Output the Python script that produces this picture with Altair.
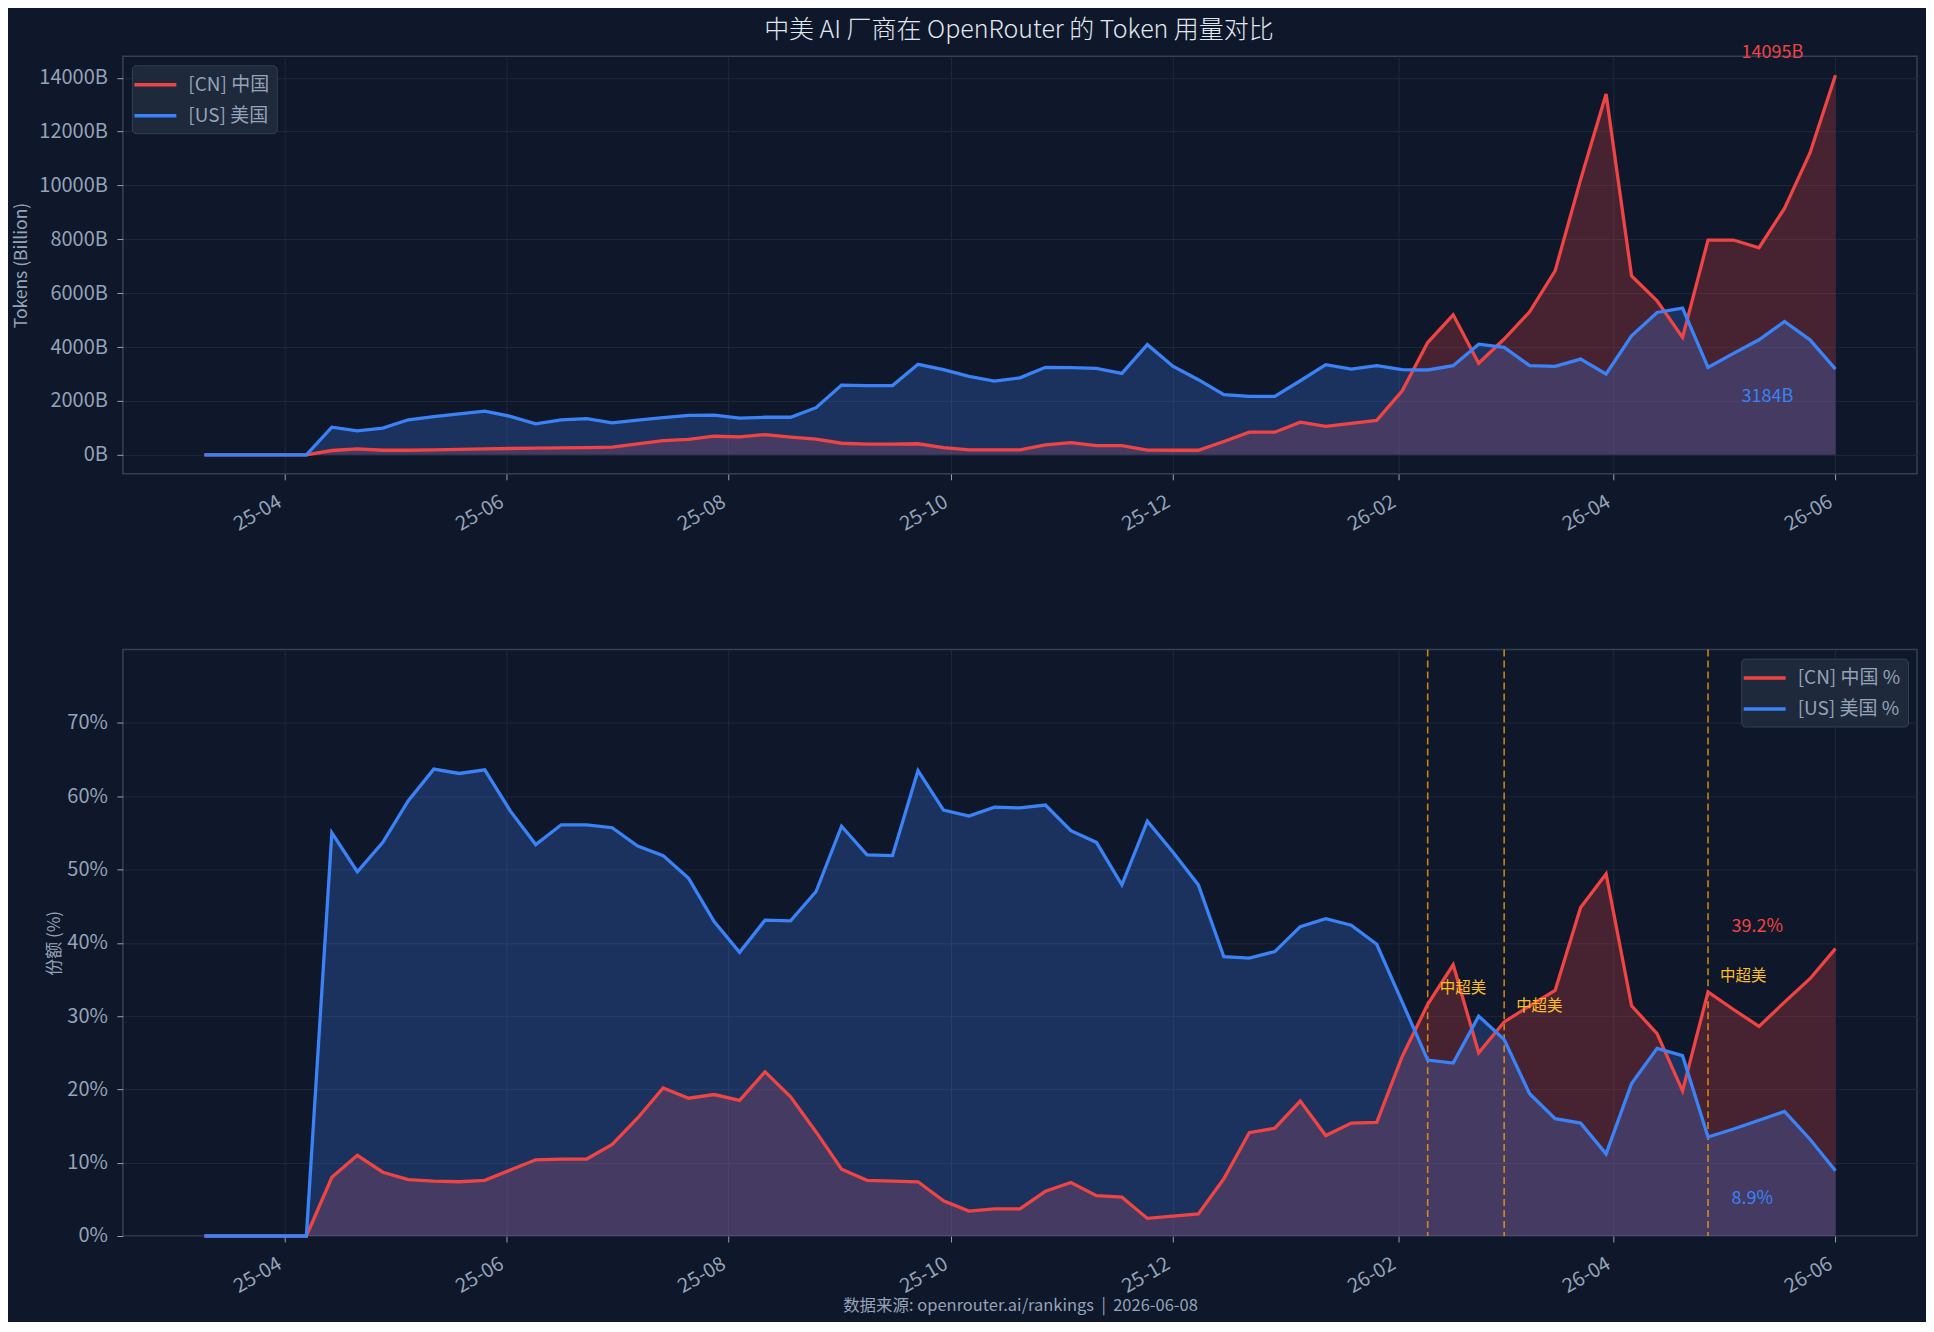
import altair as alt
import pandas as pd

# ---------------- data ----------------
dates = pd.date_range("2025-03-10", periods=65, freq="7D").strftime("%Y-%m-%d").tolist()

cn_tokens = [0, 0, 0, 0, 0, 160, 220, 170, 170, 185,
             200, 220, 235, 245, 260, 270, 285, 410, 530, 570,
             690, 665, 750, 655, 580, 430, 395, 395, 410, 270,
             185, 185, 185, 370, 455, 345, 345, 175, 170, 170,
             494, 840, 840, 1210, 1060, 1170, 1280, 2380, 4170, 5200,
             3400, 4300, 5310, 6830, 10220, 13395, 6640, 5715, 4360, 7975,
             7975, 7690, 9150, 11210, 14095]

us_tokens = [0, 0, 0, 0, 0, 1025, 890, 990, 1300, 1420,
             1520, 1620, 1430, 1150, 1300, 1345, 1185, 1285, 1380, 1465,
             1470, 1360, 1395, 1395, 1750, 2590, 2570, 2570, 3360, 3160,
             2910, 2740, 2860, 3250, 3235, 3210, 3025, 4090, 3290, 2790,
             2235, 2170, 2170, 2750, 3345, 3185, 3310, 3160, 3150, 3310,
             4110, 3990, 3310, 3285, 3555, 3000, 4420, 5285, 5445, 3245,
             3765, 4270, 4950, 4270, 3184]

cn_share = [0, 0, 0, 0, 0, 8.0, 11.0, 8.7, 7.7, 7.5,
            7.4, 7.6, 9.0, 10.4, 10.5, 10.5, 12.5, 16.1, 20.2, 18.8,
            19.3, 18.5, 22.4, 19.0, 14.2, 9.1, 7.6, 7.5, 7.4, 4.8,
            3.4, 3.7, 3.7, 6.1, 7.3, 5.5, 5.3, 2.4, 2.7, 3.0,
            7.8, 14.1, 14.7, 18.4, 13.7, 15.4, 15.5, 24.5, 31.6, 37.0,
            25.0, 29.2, 31.4, 33.5, 44.8, 49.4, 31.4, 27.6, 19.8, 33.3,
            30.9, 28.6, 31.9, 35.1, 39.2]

us_share = [0, 0, 0, 0, 0, 55.0, 49.7, 53.7, 59.4, 63.7,
            63.1, 63.6, 58.0, 53.4, 56.1, 56.1, 55.7, 53.2, 51.9, 48.8,
            42.9, 38.7, 43.1, 43.0, 47.0, 55.9, 52.0, 51.9, 63.5, 58.1,
            57.3, 58.5, 58.4, 58.8, 55.3, 53.7, 47.9, 56.6, 52.4, 47.9,
            38.1, 37.9, 38.8, 42.2, 43.3, 42.4, 39.8, 31.9, 24.0, 23.6,
            30.0, 26.8, 19.4, 16.0, 15.4, 11.2, 20.8, 25.6, 24.6, 13.5,
            14.6, 15.8, 17.0, 13.2, 8.9]

top_labels = ["[CN] 中国", "[US] 美国"]
bot_labels = ["[CN] 中国 %", "[US] 美国 %"]
y_ticks_top = [0, 2000, 4000, 6000, 8000, 10000, 12000, 14000]
y_ticks_bot = [0, 10, 20, 30, 40, 50, 60, 70]
tick_months = [(2025, 4), (2025, 6), (2025, 8), (2025, 10), (2025, 12),
               (2026, 2), (2026, 4), (2026, 6)]
cross_text = "中超美"
title_text = "中美 AI 厂商在 OpenRouter 的 Token 用量对比"
footer_text = "数据来源: openrouter.ai/rankings\u00a0\u00a0|\u00a0\u00a02026-06-08"

# ---------------- style ----------------
BG = "#0f172a"
RED = "#ef4444"
BLUE = "#3b82f6"
GOLD_LINE = "#f59e0b"
GOLD_TEXT = "#fbbf24"
GRID = "#1e293b"
SPINE = "#334155"
MUTED = "#94a3b8"
FONT = "Noto Sans CJK SC"

W = 1796
H_TOP = 418
H_BOT = 587

n = len(dates)
cn_top_df = pd.DataFrame({"date": dates, "value": cn_tokens, "series": top_labels[0]})
us_top_df = pd.DataFrame({"date": dates, "value": us_tokens, "series": top_labels[1]})
top_long = pd.concat([cn_top_df, us_top_df], ignore_index=True)

cn_bot_df = pd.DataFrame({"date": dates, "value": cn_share, "series": bot_labels[0]})
us_bot_df = pd.DataFrame({"date": dates, "value": us_share, "series": bot_labels[1]})
bot_long = pd.concat([cn_bot_df, us_bot_df], ignore_index=True)

cross_idx = [i for i in range(1, n)
             if cn_share[i] > us_share[i] and cn_share[i - 1] <= us_share[i - 1]]
cross_df = pd.DataFrame({"date": [dates[i] for i in cross_idx],
                         "value": [cn_share[i] for i in cross_idx],
                         "label": [cross_text] * len(cross_idx)})

x_domain = [alt.DateTime(year=2025, month=2, date=15, hours=14, minutes=24, utc=True),
            alt.DateTime(year=2026, month=6, date=23, hours=9, minutes=36, utc=True)]
tick_vals = [alt.DateTime(year=y, month=m, date=1, utc=True) for (y, m) in tick_months]
x_scale = alt.Scale(type="utc", domain=x_domain, nice=False)


def x_enc(title=None, **extra):
    return alt.X("date:T", scale=x_scale,
                 axis=alt.Axis(values=tick_vals,
                               labelExpr="utcFormat(datum.value, '%y-%m')",
                               labelAngle=-30, labelAlign="right", labelBaseline="top",
                               labelOffset=-10, labelPadding=11.5,
                               title=title, **extra))


def legend(orient):
    return alt.Legend(orient=orient, title=None, offset=9, padding=7,
                      fillColor="#1e293b", strokeColor=SPINE,
                      cornerRadius=4, symbolType="M-2,0L2,0",
                      symbolSize=441, symbolStrokeWidth=3.5, symbolOffset=4,
                      labelFont=FONT, labelFontSize=19, labelColor=MUTED,
                      labelOffset=20.5, rowPadding=8)


# ---------------- top chart ----------------
y_top = alt.Y("value:Q", stack=None,
              scale=alt.Scale(domain=[-704.75, 14799.75], nice=False, zero=False),
              axis=alt.Axis(values=y_ticks_top, labelExpr="datum.value + 'B'",
                            labelPadding=9.5,
                            title="Tokens (Billion)", titleX=-101, titleY=H_TOP / 2,
                            titleAngle=270, titleAlign="center", titleBaseline="middle",
                            titleFont=FONT, titleFontSize=17.5))

top_color = alt.Color("series:N",
                      scale=alt.Scale(domain=top_labels, range=[RED, BLUE]),
                      legend=legend("top-left"))

xt = x_enc()
area_cn_top = alt.Chart(cn_top_df).mark_area(color=RED, opacity=0.25).encode(x=xt, y=y_top)
area_us_top = alt.Chart(us_top_df).mark_area(color=BLUE, opacity=0.25).encode(x=xt, y=y_top)
lines_top = alt.Chart(top_long).mark_line(strokeWidth=3.3).encode(
    x=xt, y=y_top, color=top_color)

end_cn_top = alt.Chart(cn_top_df.tail(1)).mark_text(
    align="left", baseline="middle", dx=-94, dy=-22, color=RED, font=FONT, fontSize=18
).transform_calculate(lbl="format(datum.value, '.0f') + 'B'").encode(x=xt, y=y_top, text="lbl:N")
end_us_top = alt.Chart(us_top_df.tail(1)).mark_text(
    align="left", baseline="middle", dx=-94, dy=28, color=BLUE, font=FONT, fontSize=18
).transform_calculate(lbl="format(datum.value, '.0f') + 'B'").encode(x=xt, y=y_top, text="lbl:N")

top = alt.layer(area_cn_top, area_us_top, lines_top, end_cn_top, end_us_top).properties(
    width=W, height=H_TOP)

# ---------------- bottom chart ----------------
y_bot = alt.Y("value:Q", stack=None,
              scale=alt.Scale(domain=[0, 80], nice=False),
              axis=alt.Axis(values=y_ticks_bot, labelExpr="datum.value + '%'",
                            labelPadding=9.5,
                            title="份额 (%)", titleX=-68, titleY=H_BOT / 2,
                            titleAngle=270, titleAlign="center", titleBaseline="middle",
                            titleFont=FONT, titleFontSize=17))

bot_color = alt.Color("series:N",
                      scale=alt.Scale(domain=bot_labels, range=[RED, BLUE]),
                      legend=legend("top-right"))

xb = x_enc(title=footer_text, titleY=70, titleBaseline="middle", titleFont=FONT,
           titleFontSize=16.5, titleColor=MUTED)

area_cn_bot = alt.Chart(cn_bot_df).mark_area(color=RED, opacity=0.25).encode(x=xb, y=y_bot)
area_us_bot = alt.Chart(us_bot_df).mark_area(color=BLUE, opacity=0.25).encode(x=xb, y=y_bot)
rules = alt.Chart(cross_df).mark_rule(color=GOLD_LINE, opacity=0.8, strokeWidth=1.6,
                                      strokeDash=[7, 4]).encode(x=xb)
lines_bot = alt.Chart(bot_long).mark_line(strokeWidth=3.3).encode(
    x=xb, y=y_bot, color=bot_color)
cross_txt = alt.Chart(cross_df).mark_text(
    align="left", baseline="middle", dx=12, dy=-16, color=GOLD_TEXT, font=FONT, fontSize=15.5
).encode(x=xb, y=y_bot, text="label:N")
end_cn_bot = alt.Chart(cn_bot_df.tail(1)).mark_text(
    align="left", baseline="middle", dx=-104, dy=-22, color=RED, font=FONT, fontSize=18
).transform_calculate(lbl="format(datum.value, '.1f') + '%'").encode(x=xb, y=y_bot, text="lbl:N")
end_us_bot = alt.Chart(us_bot_df.tail(1)).mark_text(
    align="left", baseline="middle", dx=-104, dy=28, color=BLUE, font=FONT, fontSize=18
).transform_calculate(lbl="format(datum.value, '.1f') + '%'").encode(x=xb, y=y_bot, text="lbl:N")

bottom = alt.layer(area_cn_bot, area_us_bot, rules, lines_bot, cross_txt,
                   end_cn_bot, end_us_bot).properties(width=W, height=H_BOT)

# ---------------- assemble ----------------
chart = alt.vconcat(top, bottom, spacing=176, bounds="flush").resolve_scale(
    color="independent", y="independent"
).properties(
    title=alt.Title(title_text, font=FONT, fontSize=25, color="#e2e8f0",
                    fontWeight=300, anchor="middle", offset=1, dx=54),
    padding={"left": 4, "top": 8.6, "right": 8, "bottom": 5},
    background=BG,
).configure_view(
    stroke=SPINE, strokeWidth=1.5, fill=BG
).configure_axis(
    domain=False, grid=True, gridColor=GRID, gridWidth=1,
    tickColor=MUTED, tickSize=6, tickWidth=1,
    labelColor=MUTED, labelFont=FONT, labelFontSize=20,
    titleColor=MUTED, titleFontWeight="normal"
)

chart.save("out.html", embed_options={"renderer": "svg", "actions": False})
